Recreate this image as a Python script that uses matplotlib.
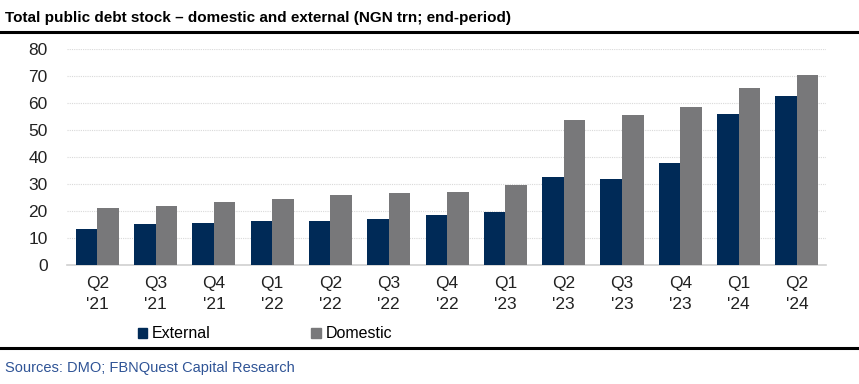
import matplotlib.pyplot as plt
import matplotlib.patches as mpatches
import numpy as np

quarters = ["Q2\n'21", "Q3\n'21", "Q4\n'21", "Q1\n'22", "Q2\n'22", "Q3\n'22", "Q4\n'22",
            "Q1\n'23", "Q2\n'23", "Q3\n'23", "Q4\n'23", "Q1\n'24", "Q2\n'24"]
external = [13.3, 15.1, 15.6, 16.2, 16.2, 16.9, 18.4, 19.8, 32.7, 31.7, 37.7, 55.8, 62.7]
domestic = [21.2, 22.0, 23.5, 24.4, 26.0, 26.5, 26.9, 29.6, 53.7, 55.4, 58.6, 65.4, 70.5]

navy = "#002a57"
grey = "#78787a"

plt.rcParams['font.family'] = ['Liberation Sans', 'DejaVu Sans']

fig = plt.figure(figsize=(8.59, 3.84), dpi=100)
ax = fig.add_axes([67 / 859, 1 - 265 / 384, (826 - 67) / 859, (265 - 49) / 384])

x = np.arange(len(quarters))
w = 0.37
ax.bar(x - w / 2, external, w, color=navy, zorder=3)
ax.bar(x + w / 2, domestic, w, color=grey, zorder=3)

ax.set_xlim(-0.52, 12.5)
ax.set_ylim(0, 80)
ax.set_yticks(range(0, 81, 10))
ax.set_xticks(x)
ax.set_xticklabels(quarters, fontsize=12.5, color="#222222", linespacing=1.45)
ax.tick_params(axis='y', labelsize=12.5, colors="#222222", length=0, pad=14)
ax.tick_params(axis='x', length=0, pad=8)
ax.grid(axis='y', color="#d9d9d9", linestyle=(0, (1, 1)), linewidth=0.8, zorder=0)
for s in ["top", "right", "left"]:
    ax.spines[s].set_visible(False)
ax.spines["bottom"].set_color("#d0d0d0")
ax.spines["bottom"].set_linewidth(1.2)

# legend
ext_patch = mpatches.Patch(color=navy, label='External')
dom_patch = mpatches.Patch(color=grey, label='Domestic')
fig.legend(handles=[ext_patch, dom_patch], loc='center', bbox_to_anchor=(265 / 859, 1 - 334 / 384),
           ncol=2, frameon=False, fontsize=11.5, handlelength=0.6, handleheight=0.6,
           handletextpad=0.3, columnspacing=6.3)

# title and rules
fig.text(5 / 859, 1 - 18 / 384, "Total public debt stock \u2013 domestic and external (NGN trn; end-period)",
         fontsize=11, fontweight='bold', va='center', ha='left')
fig.add_artist(plt.Line2D([0, 1], [1 - 32 / 384, 1 - 32 / 384], color='black', linewidth=2.2))
fig.add_artist(plt.Line2D([0, 1], [1 - 348 / 384, 1 - 348 / 384], color='black', linewidth=2.2))
fig.text(5 / 859, 1 - 368 / 384, "Sources: DMO; FBNQuest Capital Research",
         fontsize=10.5, color="#2f5496", va='center', ha='left')

fig.savefig("out.png", dpi=100)
